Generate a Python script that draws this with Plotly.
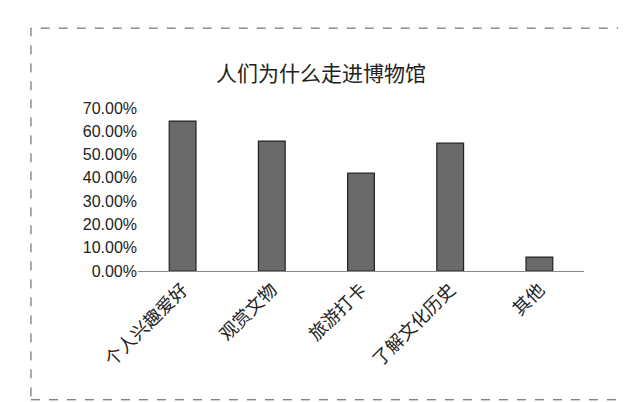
import plotly.graph_objects as go

categories = ["个人兴趣爱好", "观赏文物", "旅游打卡", "了解文化历史", "其他"]
values = [0.644, 0.558, 0.42, 0.549, 0.06]
tick_vals = [0, 0.1, 0.2, 0.3, 0.4, 0.5, 0.6, 0.7]

fig = go.Figure(go.Bar(x=categories, y=values, width=0.3,
                       marker=dict(color="#6a6a6a", line=dict(color="#222", width=1.2))))
fig.update_layout(
    width=626, height=402, paper_bgcolor="white", plot_bgcolor="white",
    margin=dict(l=130, r=50, t=100, b=139),
    title=dict(text="人们为什么走进博物馆", x=0.5, y=0.855, xanchor="center",
               font=dict(family="Noto Sans CJK SC", size=21, color="#222")),
    font=dict(family="Noto Sans CJK SC", color="#222"),
    showlegend=False,
    shapes=[dict(type="rect", xref="paper", yref="paper", x0=-0.24, x1=1.12, y0=-0.79, y1=0.49 + 1.0,
                 line=dict(color="#555", width=1, dash="dash"))],
)
fig.update_xaxes(tickangle=-45, tickfont=dict(size=18), showline=True, linecolor="#888",
                 ticks="", automargin=False)
fig.update_yaxes(range=[0, 0.7], tickvals=tick_vals, tickformat=".2%", showgrid=False,
                 tickfont=dict(family="Liberation Sans", size=16), zeroline=False, automargin=False)
fig.write_html("out.html")
